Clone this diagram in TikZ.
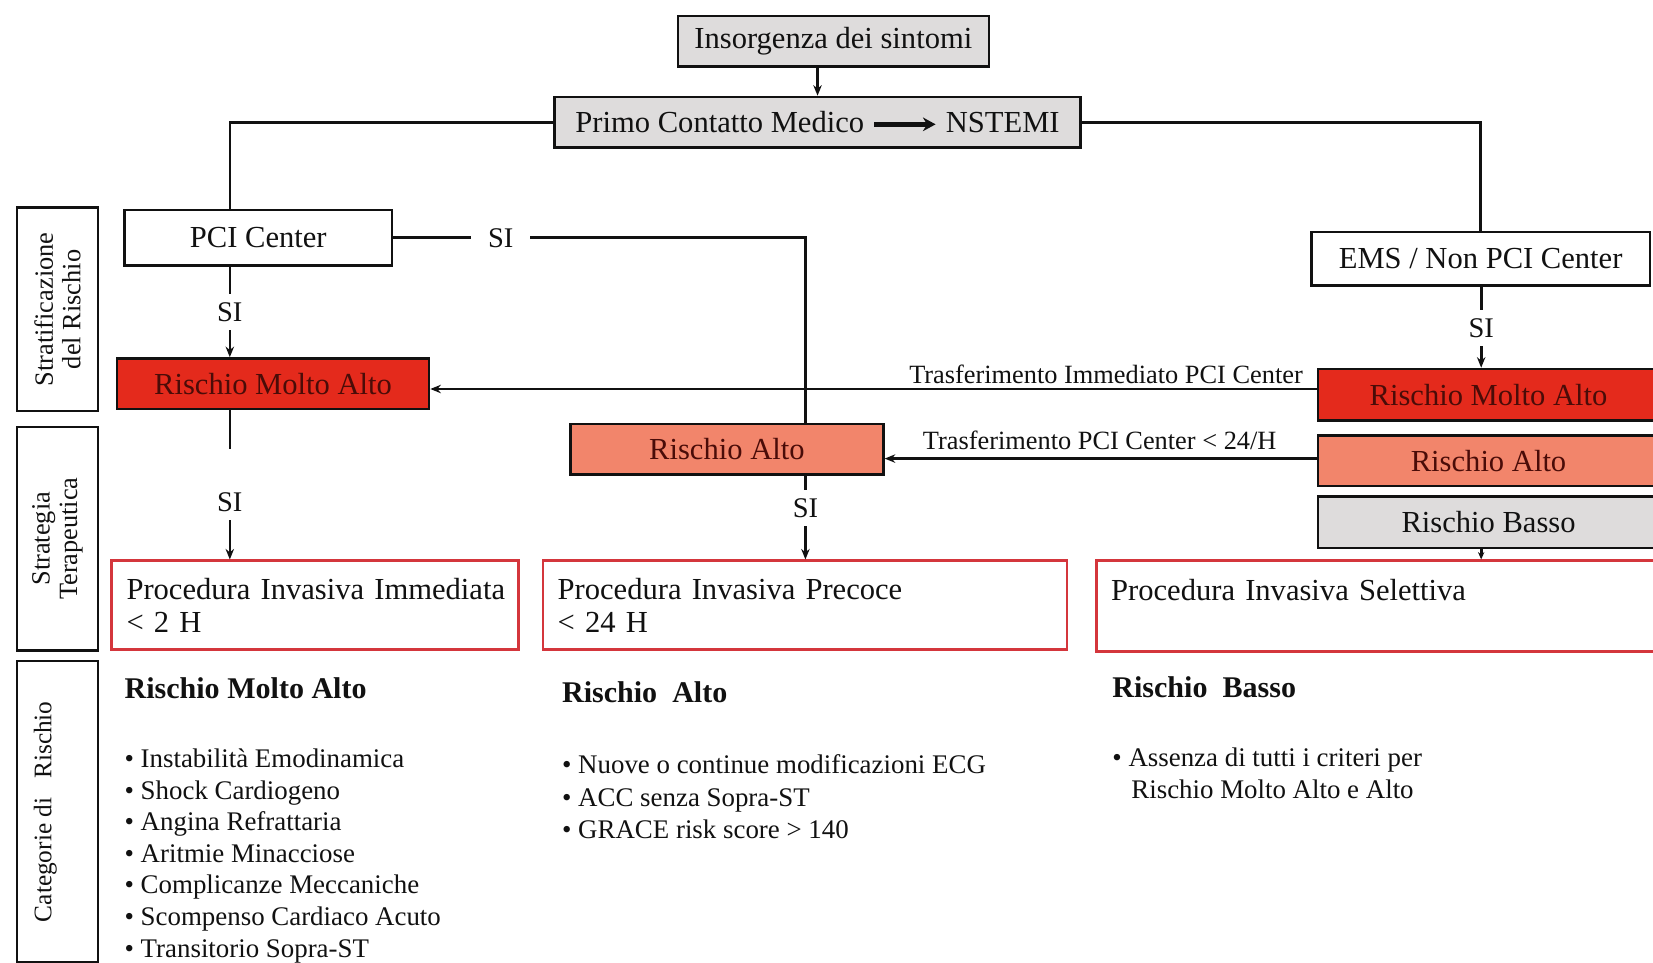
\documentclass[tikz,border=0pt]{standalone}
\usepackage{fontspec}
\setmainfont{Liberation Serif}
\usetikzlibrary{arrows.meta}
\definecolor{boxgray}{HTML}{DEDCDC}
\definecolor{riskred}{HTML}{E42A1C}
\definecolor{risksal}{HTML}{F2856B}
\definecolor{procred}{HTML}{D4363C}
\definecolor{darkred}{HTML}{4A0C08}
\definecolor{inkc}{HTML}{111111}
\begin{document}
\begin{tikzpicture}[x=1pt,y=-1pt,
  boxtxt/.style={font=\fontsize{29}{31}\selectfont},
  flowbox/.style={draw=inkc, line width=2.4pt, inner sep=0pt, boxtxt, text=inkc},
  riskbox/.style={flowbox, minimum height=48pt},
  procbox/.style={draw=procred, line width=2.6pt, fill=white, inner xsep=14pt, inner ysep=0pt, align=left, boxtxt, text=inkc},
  sidebox/.style={draw=inkc, line width=2.4pt, rotate=90, align=center, minimum height=77pt, inner sep=0pt, font=\fontsize{25}{26}\selectfont, text=inkc},
  conn/.style={draw=inkc, line width=2.5pt},
  arr/.style={conn, -{Stealth[length=10pt,width=8pt]}},
  smallarr/.style={conn, -{Stealth[length=7pt,width=6pt]}},
  silab/.style={font=\fontsize{27}{28}\selectfont, text=inkc, inner xsep=0pt, inner ysep=8pt},
  translab/.style={font=\fontsize{25}{27}\selectfont, text=inkc, inner sep=0pt},
  head/.style={font=\bfseries\fontsize{28.5}{30}\selectfont, text=inkc, anchor=base west, inner sep=0pt},
  item/.style={font=\fontsize{25.5}{30}\selectfont, text=inkc, anchor=base west, inner sep=0pt},
]
\useasboundingbox (0,0) rectangle (1568,913);
\fill[white] (0,0) rectangle (1568,913);

% side labels
\node[sidebox, minimum width=193pt] (s1) at (54.5,293.5) {Stratificazione\\del Rischio};
\node[sidebox, minimum width=212pt] (s2) at (54.5,511) {Strategia\\Terapeutica};
\node[sidebox, minimum width=286pt] (s3) at (54.5,770) {};
\node[rotate=90, inner sep=0pt, font=\fontsize{24}{26}\selectfont, text=inkc] (s3t) at (43,770) {Categorie di\ \ \ Rischio};

% helper columns
\coordinate (cL) at (218,0);
\coordinate (cM) at (764,0);
\coordinate (cR) at (1405,0);
\coordinate (t1) at (0,369);
\coordinate (t2) at (0,435);
\coordinate (e4) at (218,426);

% top
\node[flowbox, fill=boxgray, minimum width=295pt, minimum height=48pt] (ins) at (790.5,39) {Insorgenza dei sintomi};
\node[flowbox, fill=boxgray, minimum width=499pt, minimum height=48pt] (primo) at (775.5,116)
  {Primo Contatto Medico \tikz[baseline=-0.6ex]\draw[line width=5pt,-{Stealth[length=12pt,width=13pt]}] (0pt,0pt) -- (58pt,0pt); NSTEMI};
\draw[arr] (ins.south -| primo.north) -- (primo.north);

% centres
\node[flowbox, minimum width=254pt, minimum height=53pt] (pci) at (245,225.5) {PCI Center};
\node[flowbox, minimum width=321pt, minimum height=51pt] (ems) at (1404.5,245.5) {EMS / Non PCI Center};
\draw[conn] (primo.west) -| (pci.north -| cL);
\draw[conn] (primo.east) -| (ems.north);

% risk boxes
\node[riskbox, fill=riskred, text=darkred, minimum width=296pt] (rma1) at (259,364) {Rischio Molto Alto};
\node[riskbox, fill=risksal, text=darkred, minimum width=297pt] (ra1) at (689.5,426) {Rischio Alto};
\node[riskbox, fill=riskred, text=darkred, minimum width=324pt, minimum height=49pt] (rma2) at (1412,374.5) {Rischio Molto Alto};
\node[riskbox, fill=risksal, text=darkred, minimum width=324pt] (ra2) at (1412,437) {Rischio Alto};
\node[riskbox, fill=boxgray, minimum width=324pt, minimum height=49pt] (rb2) at (1412,495.5) {Rischio Basso};

% procedure boxes
\node[procbox, text width=358pt, minimum height=84pt] (pi) at (299,574) {\mbox{Procedura Invasiva Immediata}\\\mbox{< 2 H}};
\node[procbox, text width=469pt, minimum height=84pt] (pp) at (763.5,574) {\mbox{Procedura Invasiva Precoce}\\\mbox{< 24 H}};
\node[procbox, text width=512pt, minimum height=86pt] (ps) at (1310,575) {\mbox{Procedura Invasiva Selettiva}\\\mbox{}};

% SI labels
\node[silab, inner xsep=16pt, inner ysep=0pt] (si2) at (475,226) {SI};
\node[silab] (si1) at (218,296) {SI};
\node[silab] (si3) at (1405,311) {SI};
\node[silab] (si4) at (218,476) {SI};
\node[silab] (si5) at (764,482) {SI};

% PCI center branch
\draw[conn] (pci.east) -- (si2.west |- pci.east);
\draw[conn] (si2.east |- pci.east) -| (ra1.north -| cM);
\draw[conn] (pci.south -| cL) -- (si1.north);
\draw[arr] (si1.south) -- (rma1.north -| cL);
\draw[conn] (rma1.south -| cL) -- (e4);
\draw[arr] (si4.south) -- (pi.north -| cL);
\draw[conn] (ra1.south -| cM) -- (si5.north);
\draw[arr] (si5.south) -- (pp.north -| cM);

% EMS branch
\draw[conn] (ems.south -| cR) -- (si3.north);
\draw[arr] (si3.south) -- (rma2.north -| cR);
\draw[smallarr] (rb2.south -| cR) -- (ps.north -| cR);

% transfers
\draw[arr] (rma2.west |- t1) -- (rma1.east |- t1);
\draw[arr] (ra2.west |- t2) -- (ra1.east |- t2);
\node[translab, anchor=base east] (tl1) at (1236,364) {Trasferimento Immediato PCI Center};
\node[translab, anchor=base east] (tl2) at (1211,426) {Trasferimento PCI Center < 24/H};

% risk categories
\node[head] (h1) at (118,663) {Rischio Molto Alto};
\node[item] (i11) at (118,728) {• Instabilità Emodinamica};
\node[item] (i12) at (118,758) {• Shock Cardiogeno};
\node[item] (i13) at (118,788) {• Angina Refrattaria};
\node[item] (i14) at (118,818) {• Aritmie Minacciose};
\node[item] (i15) at (118,848) {• Complicanze Meccaniche};
\node[item] (i16) at (118,878) {• Scompenso Cardiaco Acuto};
\node[item] (i17) at (118,908) {• Transitorio Sopra-ST};

\node[head] (h2) at (533,666) {Rischio\ \ Alto};
\node[item] (i21) at (533,734) {• Nuove o continue modificazioni ECG};
\node[item] (i22) at (533,765) {• ACC senza Sopra-ST};
\node[item] (i23) at (533,795) {• GRACE risk score > 140};

\node[head] (h3) at (1055,662) {Rischio\ \ Basso};
\node[item] (i31) at (1055,727) {• Assenza di tutti i criteri per};
\node[item] (i32) at (1073,757) {Rischio Molto Alto e Alto};
\end{tikzpicture}
\end{document}
